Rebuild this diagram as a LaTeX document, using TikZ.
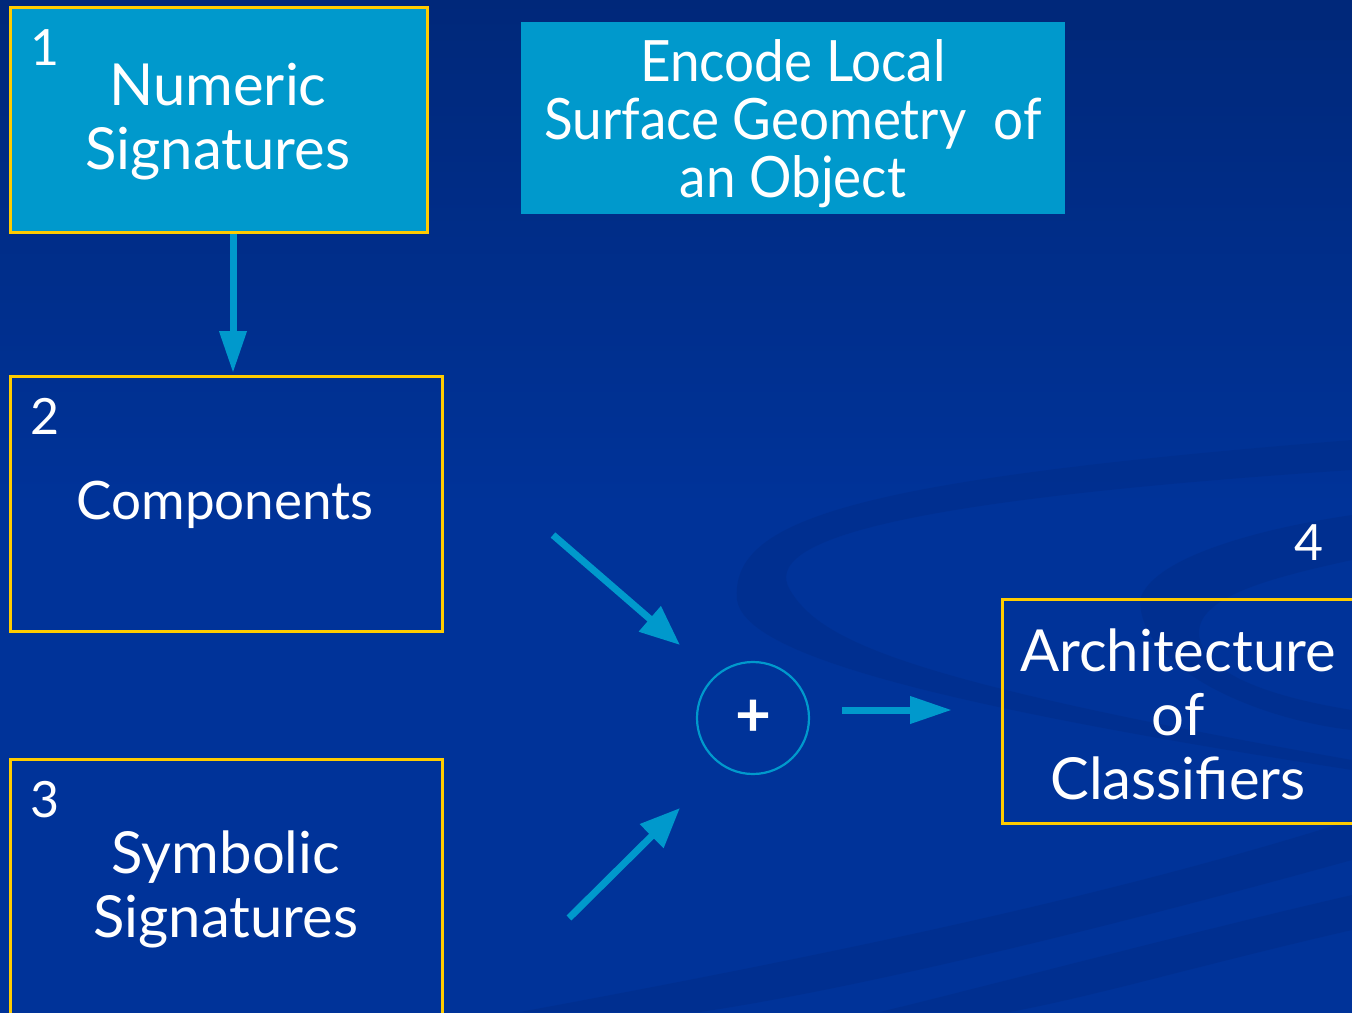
\documentclass[tikz,border=0pt]{standalone}
\usepackage{fontspec}
\setmainfont{Lato}
\newfontfamily\narrowfont[FakeStretch=0.93]{Lato}
\usetikzlibrary{arrows.meta,shapes.geometric}
\definecolor{bgtop}{HTML}{00287A}
\definecolor{bgbot}{HTML}{003399}
\definecolor{swoosh}{HTML}{002D8A}
\definecolor{cyanbox}{HTML}{0099CC}
\definecolor{ybord}{HTML}{FFCC00}
\tikzset{
  box/.style={draw=ybord, line width=2.5pt, inner sep=0pt},
  filledbox/.style={box, fill=cyanbox},
  lbl/.style={text=white, font=\fontsize{58}{64}\selectfont, align=center, inner sep=0pt},
  num/.style={text=white, font=\fontsize{50}{56}\selectfont, inner sep=0pt},
  flow/.style={draw=cyanbox, line width=7pt, -{Triangle[length=42pt,width=26pt]}},
  flowb/.style={draw=cyanbox, line width=7pt, -{Triangle[length=40pt,width=32pt]}},
  band/.style={fill=swoosh, opacity=0.55},
}
\begin{document}
\begin{tikzpicture}[x=1pt,y=-1pt]
\useasboundingbox (0,0) rectangle (1352,1012);
\begin{scope}
\clip (0,0) rectangle (1352,1012);
\shade[top color=bgtop, bottom color=bgbot, middle color=bgbot, shading angle=0] (0,0) rectangle (1352,1012);
\fill[bgtop, opacity=0.6] (700,0) rectangle (1352,40);
% swooshes
\fill[band] (737,600) .. controls (730,520) and (850,480) .. (1352,440)
  -- (1352,470) .. controls (900,500) and (760,540) .. (790,590)
  .. controls (820,640) and (900,680) .. (1352,760)
  -- (1352,770) .. controls (900,700) and (745,650) .. (737,600) -- cycle;
\fill[band] (1140,600) .. controls (1150,560) and (1250,530) .. (1352,515)
  -- (1352,560) .. controls (1260,580) and (1190,600) .. (1200,640)
  .. controls (1210,680) and (1290,700) .. (1352,710)
  -- (1352,730) .. controls (1260,720) and (1140,670) .. (1140,600) -- cycle;
\fill[band] (520,1012) .. controls (800,960) and (1100,900) .. (1352,820)
  -- (1352,860) .. controls (1100,930) and (850,990) .. (700,1012) -- cycle;
\fill[band] (880,1012) .. controls (1050,970) and (1200,930) .. (1352,895)
  -- (1352,930) .. controls (1200,965) and (1100,995) .. (1010,1012) -- cycle;
\end{scope}

% boxes
\node[filledbox, minimum width=417pt, minimum height=225pt, anchor=north west] (b1) at (9,6) {};
\node[lbl] (t1) at (218,122) {Numeric\\Signatures};
\node[num] (n1) at (45,48) {1};

\node[box, minimum width=432pt, minimum height=255pt, anchor=north west] (b2) at (9,375) {};
\node[lbl, font=\fontsize{53}{60}\selectfont] (t2) at (225,505) {Components};
\node[num] (n2) at (45,416) {2};

\node[box, minimum width=432pt, minimum height=280pt, anchor=north west] (b3) at (9,758) {};
\node[lbl] (t3) at (226,889) {Symbolic\\Signatures};
\node[num] (n3) at (45,800) {3};

\node[fill=cyanbox, minimum width=544pt, minimum height=192pt, anchor=north west, inner sep=0pt] (enc) at (521,22) {};
\node[text=white, align=center, inner sep=0pt, font=\narrowfont\fontsize{57}{58}\selectfont] (te) at (793,124) {Encode Local\\Surface Geometry\ \ of\\an Object};

\node[box, minimum width=380pt, minimum height=224pt, anchor=north west] (b4) at (1001,598) {};
\node[lbl] (t4) at (1178,714) {Architecture\\of\\Classifiers};
\node[num] (n4) at (1309,543) {4};

% combiner
\node[circle, draw=cyanbox, line width=2.2pt, minimum size=112pt, inner sep=0pt] (plus) at (753,718) {};
\node[text=white, font=\bfseries\fontsize{62}{62}\selectfont, inner sep=0pt] (pl) at (753,718) {+};

% connectors
\coordinate (c2) at (553,535);
\coordinate (c2e) at (680,645);
\coordinate (c3) at (569,918);
\coordinate (c3e) at (680,808);
\coordinate (c4s) at (842,710);
\coordinate (c4e) at (952,710);
\draw[flow] (b1.south -| 233,0) -- (233,373);
\draw[flowb] (c2) -- (c2e);
\draw[flowb] (c3) -- (c3e);
\draw[flow] (c4s) -- (c4e);
\end{tikzpicture}
\end{document}
